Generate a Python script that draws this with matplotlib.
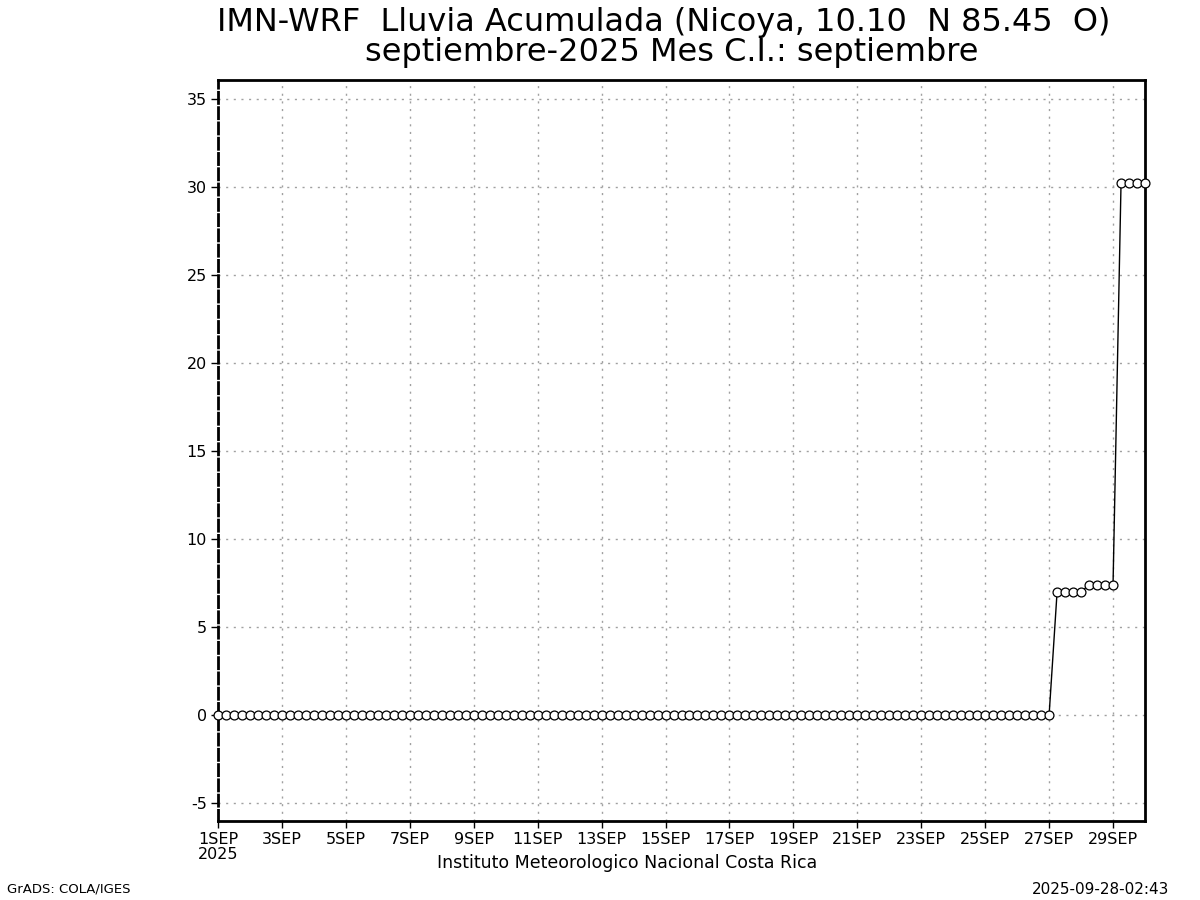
import matplotlib
matplotlib.use("Agg")
import matplotlib.pyplot as plt
import pandas as pd

plt.rcParams['font.family'] = ['DejaVu Sans']

title_line1 = "IMN-WRF  Lluvia Acumulada (Nicoya, 10.10  N 85.45  O)"
title_line2 = "septiembre-2025 Mes C.I.: septiembre"
start_time = "2025-09-01 00:00"
end_time = "2025-09-30 00:00"
step = "6h"

# accumulated rain (mm), one value every 6 h from 1SEP00 to 30SEP00
rain = [
    0.0, 0.0, 0.0, 0.0,   # 1 SEP
    0.0, 0.0, 0.0, 0.0,   # 2
    0.0, 0.0, 0.0, 0.0,   # 3
    0.0, 0.0, 0.0, 0.0,   # 4
    0.0, 0.0, 0.0, 0.0,   # 5
    0.0, 0.0, 0.0, 0.0,   # 6
    0.0, 0.0, 0.0, 0.0,   # 7
    0.0, 0.0, 0.0, 0.0,   # 8
    0.0, 0.0, 0.0, 0.0,   # 9
    0.0, 0.0, 0.0, 0.0,   # 10
    0.0, 0.0, 0.0, 0.0,   # 11
    0.0, 0.0, 0.0, 0.0,   # 12
    0.0, 0.0, 0.0, 0.0,   # 13
    0.0, 0.0, 0.0, 0.0,   # 14
    0.0, 0.0, 0.0, 0.0,   # 15
    0.0, 0.0, 0.0, 0.0,   # 16
    0.0, 0.0, 0.0, 0.0,   # 17
    0.0, 0.0, 0.0, 0.0,   # 18
    0.0, 0.0, 0.0, 0.0,   # 19
    0.0, 0.0, 0.0, 0.0,   # 20
    0.0, 0.0, 0.0, 0.0,   # 21
    0.0, 0.0, 0.0, 0.0,   # 22
    0.0, 0.0, 0.0, 0.0,   # 23
    0.0, 0.0, 0.0, 0.0,   # 24
    0.0, 0.0, 0.0, 0.0,   # 25
    0.0, 0.0, 0.0, 0.0,   # 26
    0.0, 7.0, 7.0, 7.0,   # 27
    7.0, 7.4, 7.4, 7.4,   # 28
    7.4, 30.2, 30.2, 30.2,  # 29
    30.2,                 # 30 SEP 00
]

x_tick_days = ["2025-09-01", "2025-09-03", "2025-09-05", "2025-09-07", "2025-09-09",
               "2025-09-11", "2025-09-13", "2025-09-15", "2025-09-17", "2025-09-19",
               "2025-09-21", "2025-09-23", "2025-09-25", "2025-09-27", "2025-09-29"]
x_tick_labels = ["1SEP\n2025", "3SEP", "5SEP", "7SEP", "9SEP", "11SEP", "13SEP", "15SEP",
                 "17SEP", "19SEP", "21SEP", "23SEP", "25SEP", "27SEP", "29SEP"]
y_ticks = [-5, 0, 5, 10, 15, 20, 25, 30, 35]
y_tick_labels = ["-5", "0", "5", "10", "15", "20", "25", "30", "35"]

times = pd.date_range(start_time, periods=len(rain), freq=step)

fig = plt.figure(figsize=(12, 9), dpi=100)
ax = fig.add_axes([218/1200, 1 - 821/900, (1145 - 218)/1200, (821 - 80)/900])

ax.plot(times, rain, color="black", lw=1.0, marker="o", ms=6.4,
        mfc="white", mec="black", mew=0.9, clip_on=False, zorder=3)

ax.set_xlim(pd.Timestamp(start_time), pd.Timestamp(end_time))
ax.set_ylim(-6.02, 36.08)

ax.set_xticks([pd.Timestamp(d) for d in x_tick_days])
ax.set_xticklabels(x_tick_labels, fontsize=11.5, linespacing=0.95)
ax.set_yticks(y_ticks)
ax.set_yticklabels(y_tick_labels, fontsize=11.5)

ax.tick_params(axis="both", direction="out", length=5, width=1, color="black", pad=3)
ax.grid(True, color="#a0a0a0", linestyle=(0, (1.5, 4)), linewidth=1.0)
ax.set_axisbelow(True)

for side in ["top", "right", "bottom"]:
    ax.spines[side].set_linewidth(2.0)
ax.spines["left"].set_linewidth(2.0)
ax.spines["left"].set_linestyle((0, (4, 1.5)))

fig.text(664/1200, 1 - 22/900, title_line1, ha="center", va="center", fontsize=23)
fig.text(672/1200, 1 - 52/900, title_line2, ha="center", va="center", fontsize=23)
fig.text(627/1200, 1 - 863/900, "Instituto Meteorologico Nacional Costa Rica",
         ha="center", va="center", fontsize=12.5)
fig.text(7/1200, 1 - 889/900, "GrADS: COLA/IGES", ha="left", va="center", fontsize=9.5)
fig.text(1169/1200, 1 - 889/900, "2025-09-28-02:43", ha="right", va="center", fontsize=11)

fig.savefig("out.png", dpi=100, facecolor="white")
